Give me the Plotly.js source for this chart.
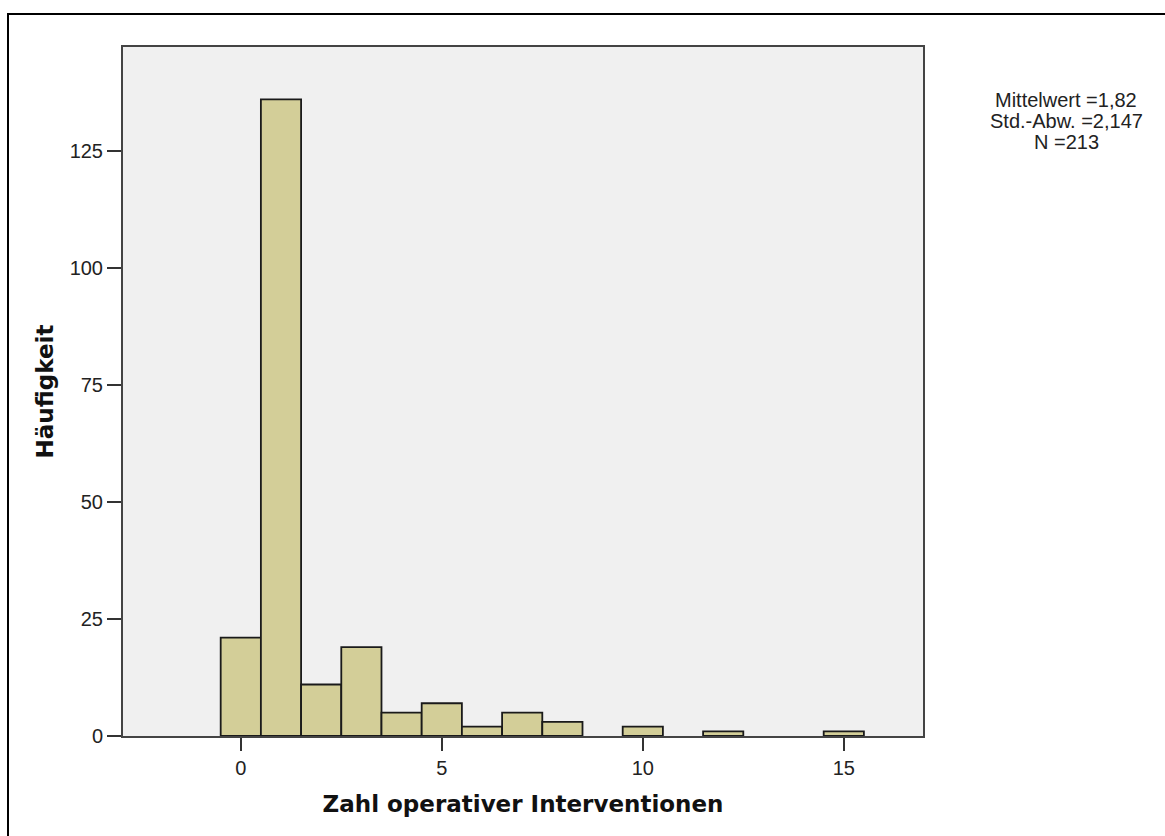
<!DOCTYPE html>
<html>
<head>
<meta charset="utf-8">
<script src="https://cdn.plot.ly/plotly-3.0.1.min.js"></script>
<style>html,body{margin:0;padding:0;background:#fff;}#chart{width:1165px;height:836px;}</style>
</head>
<body>
<div id="chart"></div>
<script>
const binCenters = [0, 1, 2, 3, 4, 5, 6, 7, 8, 10, 12, 15];
const frequencies = [21, 136, 11, 19, 5, 7, 2, 5, 3, 2, 1, 1];
const xTicks = [0, 5, 10, 15];
const yTicks = [0, 25, 50, 75, 100, 125];
const statsLines = ["Mittelwert =1,82", "Std.-Abw. =2,147", "N =213"];
const xTitle = "Zahl operativer Interventionen";
const yTitle = "Häufigkeit";

const fontFam = "Liberation Sans, Arial, sans-serif";
const titleFam = "DejaVu Sans, Verdana, sans-serif";

const trace = {
  type: "bar",
  x: binCenters,
  y: frequencies,
  width: 1,
  marker: {color: "#d3ce98", line: {color: "#1a1a1a", width: 1.8}},
  hoverinfo: "x+y"
};

const statsY = [100, 121, 142];
const annotations = statsLines.map((t, i) => ({
  xref: "paper", yref: "paper",
  x: (1066 - 123) / 800, y: (736 - statsY[i]) / 689,
  xanchor: "center", yanchor: "middle",
  text: t, showarrow: false,
  font: {size: 20, family: fontFam, color: "#222"}
}));

const layout = {
  width: 1165, height: 836,
  margin: {l: 123, r: 242, t: 47, b: 100},
  paper_bgcolor: "#ffffff",
  plot_bgcolor: "#f0f0f0",
  showlegend: false,
  font: {family: fontFam, color: "#222", size: 20},
  xaxis: {
    range: [-2.93, 16.97],
    tickvals: xTicks, ticktext: xTicks.map(String),
    ticks: "outside", ticklen: 13, tickwidth: 1.8, tickcolor: "#333",
    showline: true, linecolor: "#444", linewidth: 2, mirror: true,
    showgrid: false, zeroline: false,
    tickfont: {size: 20, family: fontFam, color: "#222"},
    title: {text: xTitle, font: {size: 23, family: titleFam, color: "#111", weight: "bold"}, standoff: 18}
  },
  yaxis: {
    range: [0, 147.2],
    tickvals: yTicks, ticktext: yTicks.map(String),
    ticks: "outside", ticklen: 14, tickwidth: 1.8, tickcolor: "#333",
    showline: true, linecolor: "#444", linewidth: 2, mirror: true,
    showgrid: false, zeroline: false,
    tickfont: {size: 20, family: fontFam, color: "#222"},
    title: {text: yTitle, font: {size: 23, family: titleFam, color: "#111", weight: "bold"}, standoff: 10}
  },
  annotations: annotations,
  shapes: [{
    type: "rect", xref: "paper", yref: "paper",
    x0: (8 - 123) / 800, x1: (1180 - 123) / 800,
    y0: (736 - 850) / 689, y1: (736 - 14) / 689,
    line: {color: "#000", width: 2}, fillcolor: "rgba(0,0,0,0)", layer: "below"
  }]
};

Plotly.newPlot("chart", [trace], layout, {displayModeBar: false, staticPlot: true});
</script>
</body>
</html>
